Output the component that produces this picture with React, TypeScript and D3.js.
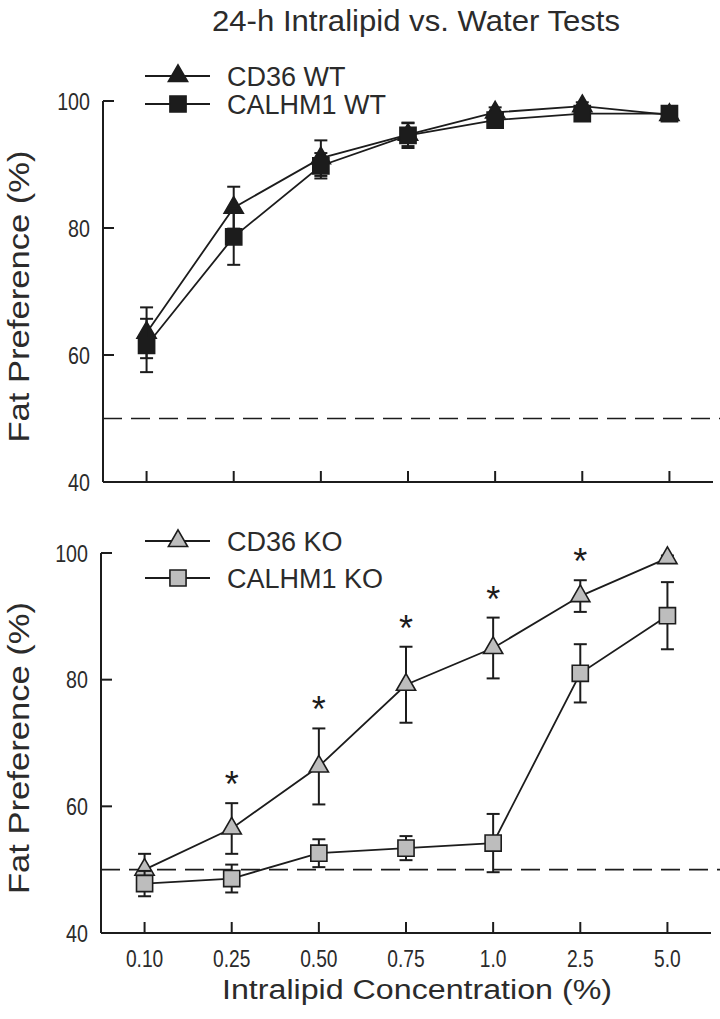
import React from 'react';
import * as d3 from 'd3';

const concentrations = ['0.10', '0.25', '0.50', '0.75', '1.0', '2.5', '5.0'];
const cd36WT = [63.5, 83.2, 91.0, 94.7, 98.2, 99.2, 97.8];
const cd36WTErr = [4.0, 3.3, 2.8, 1.8, 0.8, 0.6, 0.5];
const calhm1WT = [61.5, 78.6, 89.8, 94.6, 97.0, 98.0, 98.0];
const calhm1WTErr = [4.2, 4.4, 2.0, 2.0, 0.8, 0.6, 0.5];
const cd36KO = [50.0, 56.5, 66.3, 79.2, 85.0, 93.2, 99.2];
const cd36KOErr = [2.5, 4.0, 6.0, 6.0, 4.8, 2.5, 0.4];
const calhm1KO = [47.8, 48.6, 52.6, 53.4, 54.2, 81.0, 90.1];
const calhm1KOErr = [2.0, 2.2, 2.2, 1.9, 4.6, 4.6, 5.3];
const significant = [false, true, true, true, true, true, false];
const yTicks = [40, 60, 80, 100];
const chanceLevel = 50;

const FONT = '"Liberation Sans", Arial, Helvetica, sans-serif';
const INK = '#1c1c1c';
const TEXT = '#2b2b2b';
const GRAY = '#bdbdbd';

type Series = { name: string; values: number[]; errs: number[]; shape: 'tri' | 'sq'; fill: string };

const triPath = d3.symbol().type(d3.symbolTriangle).size(160)() as string;
const sqPath = d3.symbol().type(d3.symbolSquare).size(260)() as string;

function Marker({ x, y, s }: { x: number; y: number; s: Series }) {
  return (
    <path
      d={s.shape === 'tri' ? triPath : sqPath}
      transform={`translate(${x},${y})`}
      fill={s.fill}
      stroke={INK}
      strokeWidth={1.6}
    />
  );
}

function Panel({
  top, bottom, left, right, series, legendY, stars, showXLabels,
}: {
  top: number; bottom: number; left: number; right: number; series: Series[];
  legendY: number[]; stars: boolean; showXLabels: boolean;
}) {
  const x = d3.scalePoint<string>().domain(concentrations).range([left, right]).padding(0.5);
  const y = d3.scaleLinear().domain([40, 100]).range([bottom, top]);
  const line = d3.line<number>().x((_, i) => x(concentrations[i]) as number).y((d) => y(d));
  const tick = 11;
  const cap = 6.5;
  return (
    <g>
      <line x1={left} x2={720} y1={y(chanceLevel)} y2={y(chanceLevel)} stroke={INK} strokeWidth={1.7} strokeDasharray="19,9" />
      <line x1={left} x2={left} y1={y(100)} y2={bottom} stroke={INK} strokeWidth={2} />
      <line x1={left} x2={right} y1={bottom} y2={bottom} stroke={INK} strokeWidth={2} />
      {yTicks.map((t) => (
        <g key={t}>
          {t !== 40 && <line x1={left} x2={left + tick} y1={y(t)} y2={y(t)} stroke={INK} strokeWidth={2} />}
          <text transform={`translate(${left - 13},${y(t)}) scale(0.82,1)`} dy="0.36em" textAnchor="end" fontFamily={FONT} fontSize={24} fill={TEXT}>{t}</text>
        </g>
      ))}
      {concentrations.map((c) => (
        <g key={c}>
          <line x1={x(c)} x2={x(c)} y1={bottom} y2={bottom - tick} stroke={INK} strokeWidth={2} />
          {showXLabels && (
            <text transform={`translate(${x(c)},${bottom + 34}) scale(0.8,1)`} textAnchor="middle" fontFamily={FONT} fontSize={24} fill={TEXT}>{c}</text>
          )}
        </g>
      ))}
      <text transform={`translate(29,${(top + bottom) / 2 + 5}) rotate(-90)`} textAnchor="middle" fontFamily={FONT} fontSize={30} textLength={292} lengthAdjust="spacingAndGlyphs" fill={TEXT}>Fat Preference (%)</text>
      {series.map((s) => (
        <g key={s.name}>
          <path d={line(s.values) as string} fill="none" stroke={INK} strokeWidth={1.8} />
          {s.values.map((v, i) => {
            const cx = x(concentrations[i]) as number;
            const hi = y(v + s.errs[i]);
            const lo = y(v - s.errs[i]);
            return (
              <g key={i} stroke={INK} strokeWidth={2}>
                <line x1={cx} x2={cx} y1={hi} y2={lo} />
                <line x1={cx - cap} x2={cx + cap} y1={hi} y2={hi} />
                <line x1={cx - cap} x2={cx + cap} y1={lo} y2={lo} />
              </g>
            );
          })}
          {s.values.map((v, i) => (
            <Marker key={i} x={x(concentrations[i]) as number} y={y(v)} s={s} />
          ))}
        </g>
      ))}
      {stars && significant.map((sig, i) =>
        sig ? (
          <text key={i} x={x(concentrations[i])} y={y(series[0].values[i] + series[0].errs[i]) - 6} textAnchor="middle" fontFamily={FONT} fontSize={36} fill={INK}>*</text>
        ) : null
      )}
      {series.map((s, k) => (
        <g key={s.name}>
          <line x1={145} x2={210} y1={legendY[k]} y2={legendY[k]} stroke={INK} strokeWidth={1.8} />
          <Marker x={178} y={legendY[k]} s={s} />
          <text x={227} y={legendY[k]} dy="0.36em" fontFamily={FONT} fontSize={27} fill={TEXT}>{s.name}</text>
        </g>
      ))}
    </g>
  );
}

export default function App() {
  const topSeries: Series[] = [
    { name: 'CD36 WT', values: cd36WT, errs: cd36WTErr, shape: 'tri', fill: INK },
    { name: 'CALHM1 WT', values: calhm1WT, errs: calhm1WTErr, shape: 'sq', fill: INK },
  ];
  const botSeries: Series[] = [
    { name: 'CD36 KO', values: cd36KO, errs: cd36KOErr, shape: 'tri', fill: GRAY },
    { name: 'CALHM1 KO', values: calhm1KO, errs: calhm1KOErr, shape: 'sq', fill: GRAY },
  ];
  return (
    <svg width={720} height={1019} style={{ position: 'absolute', left: 0, top: 0, background: '#fff' }}>
      <text x={416} y={31} textAnchor="middle" fontFamily={FONT} fontSize={29} textLength={408} lengthAdjust="spacingAndGlyphs" fill={TEXT}>24-h Intralipid vs. Water Tests</text>
      <Panel top={101} bottom={482} left={103} right={713} series={topSeries} legendY={[76, 104]} stars={false} showXLabels={false} />
      <Panel top={553} bottom={933} left={101} right={711} series={botSeries} legendY={[541, 578]} stars={true} showXLabels={true} />
      <text x={417} y={999} textAnchor="middle" fontFamily={FONT} fontSize={27} textLength={390} lengthAdjust="spacingAndGlyphs" fill={TEXT}>Intralipid Concentration (%)</text>
    </svg>
  );
}
